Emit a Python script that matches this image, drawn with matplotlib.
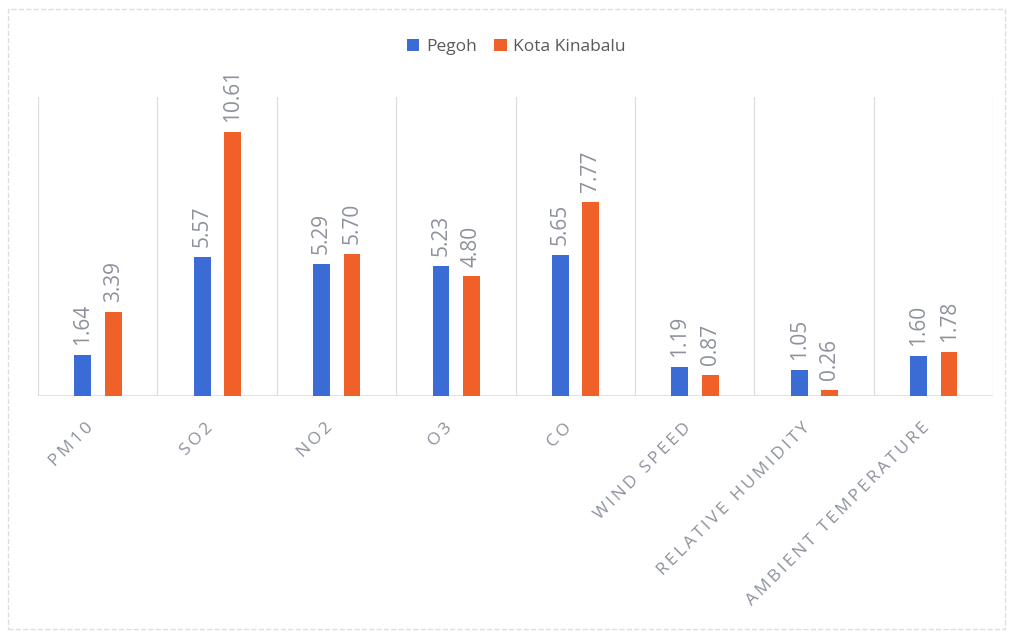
import numpy as np
import matplotlib.pyplot as plt
from matplotlib.patches import Rectangle

categories = ['PM10', 'SO2', 'NO2', 'O3', 'CO', 'WIND SPEED',
              'RELATIVE HUMIDITY', 'AMBIENT TEMPERATURE']
pegoh = [1.64, 5.57, 5.29, 5.23, 5.65, 1.19, 1.05, 1.60]
kota_kinabalu = [3.39, 10.61, 5.70, 4.80, 7.77, 0.87, 0.26, 1.78]

blue = '#3b6cd6'
orange = '#ef6128'
grey = '#8c919c'
grid = '#dcdde3'

plt.rcParams['font.family'] = ['Open Sans', 'DejaVu Sans']

fig = plt.figure(figsize=(10.13, 6.33), dpi=100)
ax = fig.add_axes([0.0375, 0.374, 0.943, 0.473])

x = np.arange(len(categories))
w = 0.14
b1 = ax.bar(x - 0.125, pegoh, w, color=blue, label='Pegoh', zorder=3)
b2 = ax.bar(x + 0.13, kota_kinabalu, w, color=orange, label='Kota Kinabalu', zorder=3)

for bars, vals in [(b1, pegoh), (b2, kota_kinabalu)]:
    for r, v in zip(bars, vals):
        ax.text(r.get_x() + r.get_width() / 2, v + 0.4, f'{v:.2f}',
                rotation=90, ha='center', va='bottom', color=grey, fontsize=15)

ax.set_xlim(-0.5, len(categories) - 0.5)
ax.set_ylim(0, 12)
for xb in np.arange(-0.5, len(categories), 1):
    ax.axvline(xb, color=grid, lw=0.9, zorder=1)
ax.axhline(0, color=grid, lw=1.2, zorder=2)

for s in ax.spines.values():
    s.set_visible(False)
ax.set_yticks([])
# spaced-out capitals like the original
spaced = ['\u2009'.join(c) for c in categories]
ax.set_xticks(x - 0.1)
ax.set_xticklabels(spaced, rotation=45, ha='right', rotation_mode='anchor',
                   color=grey, fontsize=12.5)
ax.tick_params(axis='x', length=0, pad=17)

fig.legend(handles=[b1, b2], loc='center', bbox_to_anchor=(0.51, 0.926), ncol=2,
           frameon=False, fontsize=12.5, handlelength=0.7, handleheight=0.7,
           handletextpad=0.4, columnspacing=1.0, labelcolor='#595959')

fig.patches.append(Rectangle((0.008, 0.006), 0.984, 0.98, transform=fig.transFigure,
                             fill=False, edgecolor=grid, lw=1, ls='--'))

fig.savefig('out.png', dpi=100)
